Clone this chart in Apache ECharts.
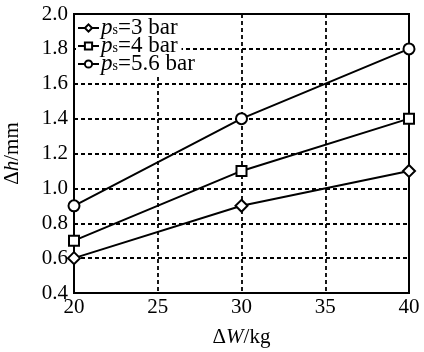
<!DOCTYPE html>
<html>
<head>
<meta charset="utf-8">
<script src="https://cdn.jsdelivr.net/npm/echarts@6/dist/echarts.min.js"></script>
<style>
  html, body { margin: 0; padding: 0; background: #fff; }
  #chart { width: 424px; height: 352px; }
</style>
</head>
<body>
<div id="chart"></div>
<script>
var weights = [20, 30, 40]
var ps3 = [0.6, 0.9, 1.1]
var ps4 = [0.7, 1.1, 1.4]
var ps56 = [0.9, 1.4, 1.8]
var seriesNames = ['3', '4', '5.6']
var legendTops = [15, 33, 51]

var FONT = 'Liberation Serif'
var FS = 21

function pairs(xs, ys) {
  var out = []
  for (var i = 0; i < xs.length; i++) out.push([xs[i], ys[i]])
  return out
}

function makeSeries(name, values, symbol) {
  return {
    name: name,
    type: 'line',
    data: pairs(weights, values),
    symbol: symbol,
    symbolSize: symbol === 'diamond' ? 12 : (symbol === 'rect' ? 10 : 11),
    showAllSymbol: true,
    lineStyle: { color: '#000', width: 2 },
    itemStyle: { color: '#fff', borderColor: '#000', borderWidth: 2 },
    z: 2
  }
}

// one legend per row so the row spacing can be tight like the original;
// the middle one carries the white box behind all three rows
function makeLegend(name, idx) {
  var boxed = idx === 1
  return {
    orient: 'vertical',
    left: 76,
    top: legendTops[idx] - (boxed ? 18 : 0),
    z: boxed ? 3 : 4,
    itemWidth: 21,
    itemHeight: 9,
    backgroundColor: boxed ? '#fff' : 'transparent',
    padding: boxed ? [18, 4, 19, 1] : [0, 2, 0, 1],
    data: [name],
    formatter: function(n) { return '{i|p}{s|s}{t|=' + n + ' bar}' },
    textStyle: {
      color: '#000',
      padding: [0, 0, 0, -3],
      rich: {
        i: { fontFamily: FONT, fontStyle: 'italic', fontSize: 23, color: '#000', lineHeight: 18 },
        s: { fontFamily: FONT, fontSize: 14, color: '#000', lineHeight: 10, padding: [8, 0, 0, 0], verticalAlign: 'bottom' },
        t: { fontFamily: FONT, fontSize: 23, color: '#000', lineHeight: 18 }
      }
    }
  }
}

var chart = echarts.init(document.getElementById('chart'))
chart.setOption({
  backgroundColor: '#fff',
  animation: false,
  textStyle: { fontFamily: FONT },
  grid: {
    left: 74, right: 15, top: 14, bottom: 59,
    containLabel: false,
    outerBoundsMode: 'none',
    show: true, borderColor: '#000', borderWidth: 2, backgroundColor: 'transparent'
  },
  legend: seriesNames.map(makeLegend),
  xAxis: {
    type: 'value',
    min: 20, max: 40, interval: 5,
    name: '{a|Δ}{i|W}{a|/kg}',
    nameLocation: 'middle',
    nameGap: 34,
    nameTextStyle: {
      rich: {
        a: { fontFamily: FONT, fontSize: FS, color: '#000' },
        i: { fontFamily: FONT, fontSize: FS, fontStyle: 'italic', color: '#000' }
      }
    },
    axisLine: { show: true, lineStyle: { color: '#000', width: 2 } },
    axisTick: { show: false },
    axisLabel: { color: '#000', fontSize: FS, fontFamily: FONT, margin: 4 },
    splitLine: { show: true, lineStyle: { color: '#000', type: [4, 3], width: 1.8 } }
  },
  yAxis: {
    type: 'value',
    min: 0.4, max: 2.0, interval: 0.2,
    name: '{a|Δ}{i|h}{a|/mm}',
    nameLocation: 'middle',
    nameGap: 51,
    nameTextStyle: {
      rich: {
        a: { fontFamily: FONT, fontSize: FS, color: '#000' },
        i: { fontFamily: FONT, fontSize: FS, fontStyle: 'italic', color: '#000' }
      }
    },
    axisLine: { show: true, lineStyle: { color: '#000', width: 2 } },
    axisTick: { show: false },
    axisLabel: {
      color: '#000', fontSize: FS, fontFamily: FONT, margin: 6,
      formatter: function(v) { return v.toFixed(1) }
    },
    splitLine: { show: true, lineStyle: { color: '#000', type: [4, 3], width: 1.8 } }
  },
  series: [
    makeSeries('3', ps3, 'diamond'),
    makeSeries('4', ps4, 'rect'),
    makeSeries('5.6', ps56, 'circle')
  ]
})
</script>
</body>
</html>
